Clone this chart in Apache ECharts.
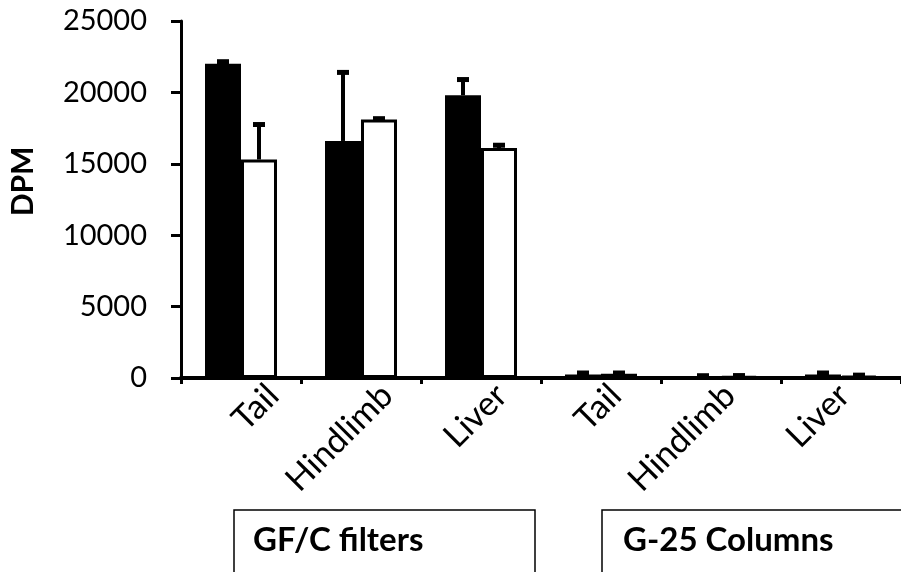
<!DOCTYPE html>
<html>
<head>
<meta charset="utf-8">
<script src="https://cdn.jsdelivr.net/npm/echarts@6/dist/echarts.min.js"></script>
<style>html,body{margin:0;padding:0;background:#fff;}#c{width:901px;height:572px;}</style>
</head>
<body>
<div id="c"></div>
<script>
var categories = ['Tail', 'Hindlimb', 'Liver', 'Tail', 'Hindlimb', 'Liver'];
var blackValues = [22000, 16600, 19800, 250, 60, 250];
var blackErrors = [150, 4800, 1100, 100, 100, 100];
var whiteValues = [15300, 18100, 16100, 300, 120, 150];
var whiteErrors = [2450, 60, 200, 50, 50, 50];
var yTicks = [0, 5000, 10000, 15000, 20000, 25000];
var groupLabels = ['GF/C filters', 'G-25 Columns'];

var FONT = 'Lato';
var chart = echarts.init(document.getElementById('c'), null, {renderer: 'canvas'});

function errorSeries(values, errors, side) {
  return {
    type: 'custom',
    xAxisIndex: 0, yAxisIndex: 0,
    z: 5,
    data: values.map(function (v, i) { return [i, v, v + errors[i]]; }),
    renderItem: function (params, api) {
      var base = api.coord([api.value(0), api.value(1)]);
      var top = api.coord([api.value(0), api.value(2)]);
      var x = base[0] + side * 18;
      return {
        type: 'group',
        children: [
          {type: 'line', shape: {x1: x, y1: base[1], x2: x, y2: top[1]}, style: {stroke: '#000', lineWidth: 4}},
          {type: 'line', shape: {x1: x - 6, y1: top[1], x2: x + 6, y2: top[1]}, style: {stroke: '#000', lineWidth: 5}}
        ]
      };
    }
  };
}

var option = {
  animation: false,
  backgroundColor: '#fff',
  grid: [
    {left: 178, right: -12, top: 21, height: 357},
    {left: 216, right: -50, top: 21, height: 357}
  ],
  xAxis: [
    {
      type: 'category', gridIndex: 0, data: categories,
      axisLine: {lineStyle: {color: '#000', width: 4}},
      axisTick: {show: true, length: 6, lineStyle: {color: '#000', width: 3}},
      axisLabel: {show: false}
    },
    {
      type: 'category', gridIndex: 1, data: categories,
      axisLine: {show: false}, axisTick: {show: false},
      axisLabel: {rotate: 45, margin: 12, color: '#000', fontFamily: FONT, fontSize: 34, interval: 0}
    }
  ],
  yAxis: [
    {
      type: 'value', gridIndex: 0, min: yTicks[0], max: yTicks[yTicks.length - 1], interval: 5000,
      name: 'DPM', nameLocation: 'middle', nameGap: 143,
      nameTextStyle: {fontFamily: FONT, fontWeight: 'bold', fontSize: 30, color: '#000', padding: [0, 0, 0, 36]},
      axisLine: {show: true, lineStyle: {color: '#000', width: 3}},
      axisTick: {show: true, length: 10, lineStyle: {color: '#000', width: 3}},
      axisLabel: {margin: 34, color: '#000', fontFamily: FONT, fontSize: 29, formatter: function (v) { return String(v); }},
      splitLine: {show: false}
    },
    {type: 'value', gridIndex: 1, min: 0, max: 25000, show: false}
  ],
  series: [
    {
      type: 'bar', xAxisIndex: 0, yAxisIndex: 0, data: blackValues,
      barWidth: 36, barGap: '0%',
      itemStyle: {color: '#000'}
    },
    {
      type: 'bar', xAxisIndex: 0, yAxisIndex: 0, data: whiteValues,
      barWidth: 36, barGap: '0%',
      itemStyle: {color: '#fff', borderColor: '#000', borderWidth: 3}
    },
    errorSeries(blackValues, blackErrors, -1),
    errorSeries(whiteValues, whiteErrors, 1)
  ],
  graphic: [
    {type: 'rect', shape: {x: 234, y: 510, width: 301, height: 90}, style: {fill: 'none', stroke: '#000', lineWidth: 1.5}},
    {type: 'rect', shape: {x: 602, y: 510, width: 330, height: 90}, style: {fill: 'none', stroke: '#000', lineWidth: 1.5}},
    {type: 'text', left: 253, top: 524, style: {text: groupLabels[0], fontFamily: FONT, fontWeight: 'bold', fontSize: 33, fill: '#000'}},
    {type: 'text', left: 623, top: 524, style: {text: groupLabels[1], fontFamily: FONT, fontWeight: 'bold', fontSize: 33, fill: '#000'}}
  ]
};
chart.setOption(option);
</script>
</body>
</html>
